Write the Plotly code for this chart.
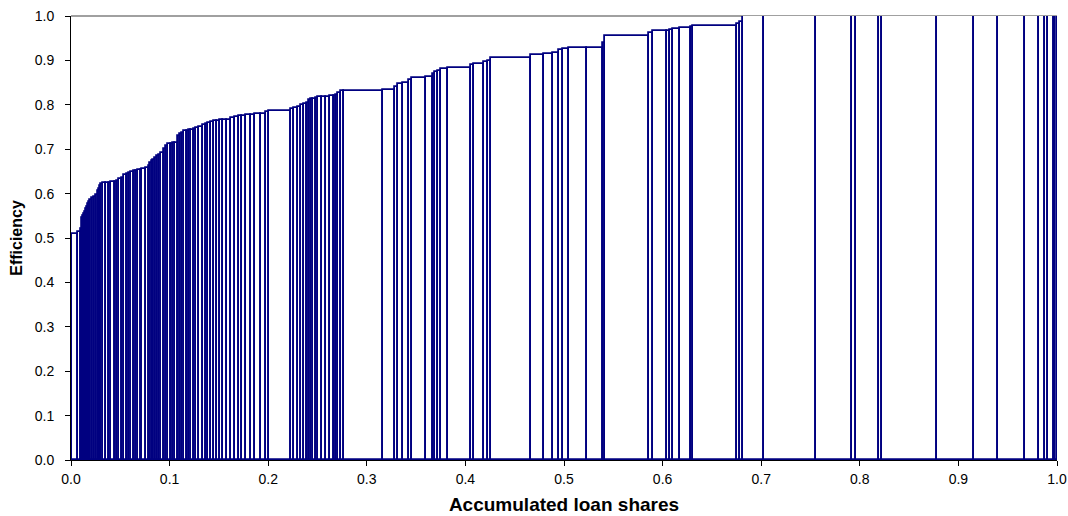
import plotly.graph_objects as go

# Loan share of each bank (fraction of total loans), banks sorted by efficiency
loan_share = [
    0.0015, 0.0056, 0.0030, 0.0010, 0.0010, 0.0010, 0.0010, 0.0010, 0.0010, 0.0010,
    0.0010, 0.0010, 0.0020, 0.0020, 0.0020, 0.0020, 0.0010, 0.0010, 0.0010, 0.0020,
    0.0030, 0.0035, 0.0015, 0.0045, 0.0025, 0.0020, 0.0030, 0.0020, 0.0030, 0.0020,
    0.0020, 0.0030, 0.0020, 0.0020, 0.0025, 0.0015, 0.0040, 0.0025, 0.0015, 0.0020,
    0.0015, 0.0015, 0.0020, 0.0020, 0.0020, 0.0030, 0.0020, 0.0020, 0.0030, 0.0020,
    0.0020, 0.0030, 0.0020, 0.0020, 0.0030, 0.0030, 0.0020, 0.0020, 0.0030, 0.0020,
    0.0030, 0.0041, 0.0030, 0.0020, 0.0030, 0.0030, 0.0030, 0.0030, 0.0030, 0.0041,
    0.0041, 0.0041, 0.0041, 0.0030, 0.0041, 0.0051, 0.0041, 0.0061, 0.0051, 0.0030,
    0.0223, 0.0030, 0.0041, 0.0030, 0.0030, 0.0030, 0.0020, 0.0020, 0.0020, 0.0030,
    0.0020, 0.0041, 0.0041, 0.0041, 0.0041, 0.0020, 0.0020, 0.0030, 0.0030, 0.0396,
    0.0122, 0.0030, 0.0051, 0.0061, 0.0030, 0.0142, 0.0071, 0.0020, 0.0030, 0.0030,
    0.0071, 0.0233, 0.0030, 0.0101, 0.0041, 0.0030, 0.0406, 0.0132, 0.0091, 0.0061,
    0.0041, 0.0061, 0.0183, 0.0162, 0.0020, 0.0446, 0.0041, 0.0142, 0.0030, 0.0030,
    0.0071, 0.0112, 0.0020, 0.0446, 0.0030, 0.0030, 0.0213, 0.0527, 0.0365, 0.0041,
    0.0233, 0.0030, 0.0558, 0.0375, 0.0243, 0.0274, 0.0142, 0.0061, 0.0030, 0.0061,
    0.0015, 0.0022,
]

# Efficiency score of each bank
efficiency = [
    0.505, 0.508, 0.514, 0.520, 0.545, 0.550, 0.555, 0.559, 0.565, 0.570,
    0.576, 0.582, 0.586, 0.590, 0.593, 0.597, 0.605, 0.610, 0.617, 0.621,
    0.623, 0.625, 0.625, 0.626, 0.627, 0.629, 0.632, 0.636, 0.641, 0.644,
    0.646, 0.649, 0.650, 0.652, 0.653, 0.654, 0.655, 0.658, 0.662, 0.668,
    0.674, 0.676, 0.681, 0.684, 0.688, 0.692, 0.700, 0.708, 0.711, 0.712,
    0.713, 0.715, 0.730, 0.734, 0.737, 0.740, 0.742, 0.743, 0.744, 0.746,
    0.747, 0.749, 0.754, 0.757, 0.759, 0.761, 0.763, 0.764, 0.765, 0.765,
    0.766, 0.771, 0.773, 0.774, 0.775, 0.777, 0.778, 0.779, 0.779, 0.783,
    0.786, 0.790, 0.793, 0.795, 0.799, 0.802, 0.805, 0.810, 0.812, 0.814,
    0.816, 0.817, 0.817, 0.818, 0.819, 0.820, 0.822, 0.827, 0.830, 0.832,
    0.834, 0.841, 0.846, 0.850, 0.856, 0.860, 0.862, 0.869, 0.874, 0.877,
    0.880, 0.884, 0.890, 0.893, 0.896, 0.899, 0.905, 0.912, 0.914, 0.916,
    0.923, 0.926, 0.928, 0.929, 0.940, 0.955, 0.962, 0.966, 0.967, 0.969,
    0.970, 0.974, 0.975, 0.978, 0.981, 0.986, 1.000, 1.000, 1.000, 1.000,
    1.000, 1.000, 1.000, 1.000, 1.000, 1.000, 1.000, 1.000, 1.000, 1.000,
    1.000, 1.000,
]

x_ticks = [round(0.1 * i, 1) for i in range(11)]
y_ticks = [round(0.1 * i, 1) for i in range(11)]

# Each bar starts where the previous bank's accumulated share ends
left_edge = []
acc = 0.0
for s in loan_share:
    left_edge.append(acc)
    acc += s
centers = [l + s / 2 for l, s in zip(left_edge, loan_share)]

NAVY = "#000080"
FONT = "Liberation Sans, Arial, sans-serif"

fig = go.Figure(
    go.Bar(
        x=centers,
        y=efficiency,
        width=loan_share,
        marker=dict(color="white", line=dict(color=NAVY, width=1.8)),
        hoverinfo="skip",
    )
)

fig.update_layout(
    width=1068,
    height=516,
    margin=dict(l=71, r=11, t=16, b=56, autoexpand=False),
    paper_bgcolor="white",
    plot_bgcolor="white",
    showlegend=False,
    bargap=0,
    font=dict(family=FONT, size=14, color="black"),
    xaxis=dict(
        range=[0, 1],
        tickvals=x_ticks,
        ticktext=[f"{v:.1f}" for v in x_ticks],
        ticks="outside",
        ticklen=5,
        tickcolor="black",
        ticklabelstandoff=1,
        showline=True,
        linecolor="black",
        linewidth=1,
        showgrid=False,
        zeroline=False,
        automargin=False,
        title=dict(text="<b>Accumulated loan shares</b>", font=dict(size=19), standoff=11),
    ),
    yaxis=dict(
        range=[0, 1],
        tickvals=y_ticks,
        ticktext=[f"{v:.1f}" for v in y_ticks],
        ticks="outside",
        ticklen=5,
        tickcolor="black",
        ticklabelstandoff=8,
        showline=True,
        linecolor="black",
        linewidth=1,
        showgrid=False,
        zeroline=False,
        automargin=False,
        title=dict(text="<b>Efficiency</b>", font=dict(size=16), standoff=8),
    ),
    shapes=[
        dict(type="line", xref="paper", yref="paper", x0=0, x1=1, y0=1, y1=1,
             line=dict(color="#808080", width=1.5), layer="below"),
    ],
)

fig.write_html("out.html")
